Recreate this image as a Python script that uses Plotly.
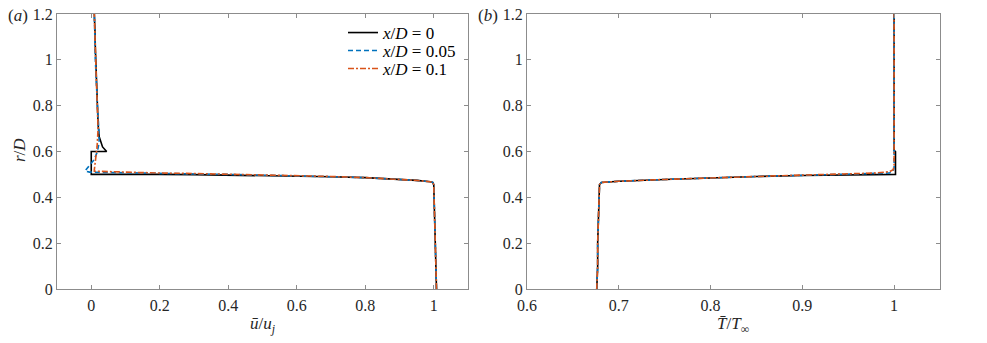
import plotly.graph_objects as go

# ---------------- data ----------------
# Left panel: mean axial velocity u/uj vs r/D
u_x0 = [1.008, 1.006, 1.004, 1.002, 1.001, 1.0, 0.997, 0.99, 0.95, 0.9, 0.8, 0.7, 0.6, 0.5, 0.4,
        0.3, 0.2, 0.1, 0.0, 0.0, 0.045, 0.033, 0.023, 0.02, 0.017, 0.014, 0.012, 0.011, 0.009]
r_u_x0 = [0.0, 0.1, 0.2, 0.3, 0.4, 0.455, 0.465, 0.468, 0.474, 0.479, 0.486, 0.49, 0.493, 0.496, 0.498,
          0.499, 0.5, 0.5, 0.5, 0.6, 0.6, 0.62, 0.665, 0.72, 0.825, 0.97, 1.05, 1.12, 1.2]

u_x005 = [1.008, 1.006, 1.004, 1.002, 1.001, 1.0, 0.997, 0.99, 0.95, 0.9, 0.8, 0.7, 0.6, 0.5, 0.4,
          0.3, 0.2, 0.1, 0.02, -0.005, -0.018, -0.015, -0.005, 0.008, 0.018, 0.023, 0.022, 0.018,
          0.015, 0.012, 0.009]
r_u_x005 = [0.0, 0.1, 0.2, 0.3, 0.4, 0.455, 0.465, 0.468, 0.474, 0.479, 0.486, 0.49, 0.494, 0.497, 0.5,
            0.502, 0.504, 0.506, 0.508, 0.51, 0.515, 0.522, 0.54, 0.563, 0.6, 0.64, 0.7, 0.8,
            0.9, 1.0, 1.2]

u_x01 = [1.008, 1.006, 1.004, 1.002, 1.001, 1.0, 0.997, 0.99, 0.95, 0.9, 0.8, 0.7, 0.6, 0.5, 0.4,
         0.3, 0.2, 0.1, 0.03, 0.009, 0.009, 0.012, 0.017, 0.02, 0.019, 0.016, 0.014, 0.012, 0.009]
r_u_x01 = [0.0, 0.1, 0.2, 0.3, 0.4, 0.455, 0.465, 0.468, 0.474, 0.479, 0.486, 0.491, 0.495, 0.498, 0.501,
           0.504, 0.506, 0.509, 0.512, 0.514, 0.52, 0.56, 0.62, 0.7, 0.76, 0.85, 0.95, 1.05, 1.2]

# Right panel: mean temperature T/Tinf vs r/D
T_x0 = [0.676, 0.677, 0.677, 0.678, 0.679, 0.679, 0.681, 0.69, 0.7, 0.75, 0.8, 0.85, 0.9, 0.95,
        0.99, 1.0015, 1.0015, 1.0, 1.0, 1.0]
r_T_x0 = [0.0, 0.1, 0.2, 0.3, 0.4, 0.455, 0.465, 0.468, 0.47, 0.478, 0.486, 0.491, 0.495, 0.498,
          0.5, 0.5, 0.6, 0.605, 0.7, 1.2]

T_x005 = [0.676, 0.677, 0.677, 0.678, 0.679, 0.679, 0.681, 0.69, 0.7, 0.75, 0.8, 0.85, 0.9, 0.95,
          0.98, 0.995, 0.999, 1.0, 1.0]
r_T_x005 = [0.0, 0.1, 0.2, 0.3, 0.4, 0.455, 0.465, 0.468, 0.47, 0.478, 0.486, 0.491, 0.496, 0.5,
            0.503, 0.506, 0.515, 0.53, 1.2]

T_x01 = [0.676, 0.677, 0.677, 0.678, 0.679, 0.679, 0.681, 0.69, 0.7, 0.75, 0.8, 0.85, 0.9, 0.95,
         0.98, 0.995, 0.999, 1.0, 1.0]
r_T_x01 = [0.0, 0.1, 0.2, 0.3, 0.4, 0.455, 0.465, 0.468, 0.47, 0.478, 0.486, 0.491, 0.497, 0.502,
           0.506, 0.512, 0.52, 0.54, 1.2]

series_names = ["<i>x</i>/<i>D</i> = 0", "<i>x</i>/<i>D</i> = 0.05", "<i>x</i>/<i>D</i> = 0.1"]

u_ticks = [0, 0.2, 0.4, 0.6, 0.8, 1]
u_ticktext = ["0", "0.2", "0.4", "0.6", "0.8", "1"]
T_ticks = [0.6, 0.7, 0.8, 0.9, 1]
T_ticktext = ["0.6", "0.7", "0.8", "0.9", "1"]
r_ticks = [0, 0.2, 0.4, 0.6, 0.8, 1, 1.2]
r_ticktext = ["0", "0.2", "0.4", "0.6", "0.8", "1", "1.2"]

# ---------------- styling ----------------
W, H = 987, 343


def xp(px):
    return px / W


def yp(py):
    return 1 - py / H


FONT = "Liberation Serif, Times New Roman, serif"
TXT = "#262626"
AXC = "#8c8c8c"
BLACK = "#000000"
BLUE = "#0072BD"
ORANGE = "#D95319"
styles = [dict(color=BLACK, width=1.6, dash="solid"),
          dict(color=BLUE, width=1.6, dash="5px,3px"),
          dict(color=ORANGE, width=1.6, dash="6px,2px,2px,2px")]
legend_ids = ["legend", "legend2", "legend3"]
legend_rows = [33, 51, 69]

fig = go.Figure()
left = [(u_x0, r_u_x0), (u_x005, r_u_x005), (u_x01, r_u_x01)]
right = [(T_x0, r_T_x0), (T_x005, r_T_x005), (T_x01, r_T_x01)]
for i, (xv, yv) in enumerate(left):
    fig.add_trace(go.Scatter(x=xv, y=yv, mode="lines", line=styles[i], name=series_names[i],
                             xaxis="x", yaxis="y", showlegend=True, legend=legend_ids[i]))
for i, (xv, yv) in enumerate(right):
    fig.add_trace(go.Scatter(x=xv, y=yv, mode="lines", line=styles[i], name=series_names[i],
                             xaxis="x2", yaxis="y2", showlegend=False))


def ax(**kw):
    base = dict(showline=True, linecolor=AXC, linewidth=1, mirror="ticks", ticks="inside",
                ticklen=4, tickcolor=AXC, tickwidth=1, showgrid=False, zeroline=False,
                automargin=False, ticklabeloverflow="allow",
                tickfont=dict(family=FONT, size=16, color=TXT))
    base.update(kw)
    return base


ydom = [yp(289), yp(14)]
layout_legends = {}
for lid, row in zip(legend_ids, legend_rows):
    layout_legends[lid] = dict(x=xp(343), y=yp(row), xanchor="left", yanchor="middle",
                               bgcolor="rgba(255,255,255,0)", borderwidth=0,
                               font=dict(family=FONT, size=17, color="#000000"),
                               itemwidth=30)

fig.update_layout(
    template="none",
    width=W, height=H, margin=dict(l=0, r=0, t=0, b=0, pad=0, autoexpand=False),
    paper_bgcolor="white", plot_bgcolor="white",
    font=dict(family=FONT, size=16, color=TXT),
    xaxis=ax(domain=[xp(57), xp(468)], range=[-0.1, 1.1], tickvals=u_ticks, ticktext=u_ticktext,
             anchor="y", ticklabelstandoff=2),
    yaxis=ax(domain=ydom, range=[0, 1.2], tickvals=r_ticks, ticktext=r_ticktext, anchor="x"),
    xaxis2=ax(domain=[xp(527), xp(940)], range=[0.6, 1.05], tickvals=T_ticks, ticktext=T_ticktext,
              anchor="y2", ticklabelstandoff=2),
    yaxis2=ax(domain=ydom, range=[0, 1.2], tickvals=r_ticks, ticktext=r_ticktext, anchor="x2"),
    showlegend=True,
    **layout_legends,
)

ann = [
    dict(text="(<i>a</i>)", x=xp(6), y=yp(15), xanchor="left", yanchor="middle"),
    dict(text="(<i>b</i>)", x=xp(476), y=yp(15), xanchor="left", yanchor="middle"),
    dict(text="<i>r</i>/<i>D</i>", x=xp(19), y=yp(150), xanchor="center", yanchor="middle",
         textangle=-90),
    dict(text="<i>ū</i>/<i>u<sub>j</sub></i>", x=xp(263), y=yp(325), xanchor="center",
         yanchor="middle"),
    dict(text="<i>T̄</i>/<i>T</i><sub>∞</sub>", x=xp(733), y=yp(325), xanchor="center",
         yanchor="middle"),
]
for a in ann:
    a.update(xref="paper", yref="paper", showarrow=False, font=dict(family=FONT, size=17, color=TXT))
    fig.add_annotation(**a)

fig.write_html("out.html", config={"displayModeBar": False},
               post_script="document.body.style.margin='0';")
